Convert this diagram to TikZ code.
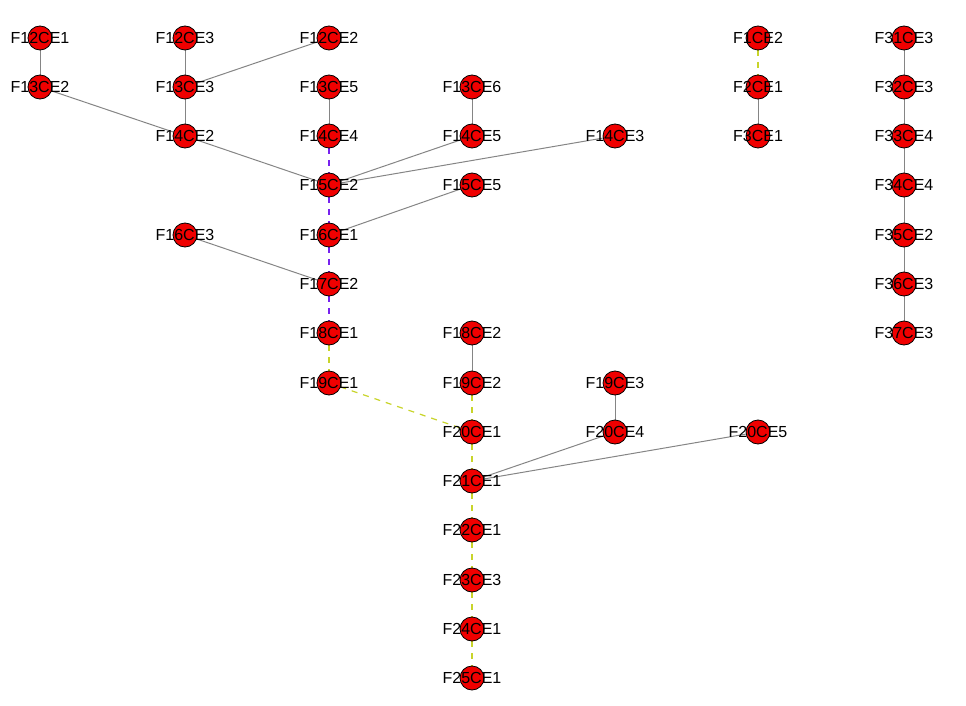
\documentclass[tikz,border=0pt]{standalone}
\usepackage{fontspec}
\setmainfont{Liberation Sans}
\usetikzlibrary{backgrounds}
\definecolor{nodered}{HTML}{F00000}
\definecolor{edgegray}{HTML}{858585}
\definecolor{edgepurple}{HTML}{7722EE}
\definecolor{edgeyellow}{HTML}{C8D42A}
\tikzset{
  vtx/.style={circle,draw=black,fill=nodered,line width=0.8pt,minimum size=24pt,inner sep=0pt,
    label={[font=\fontsize{16}{16}\selectfont,inner sep=0pt]center:#1}},
  plain/.style={draw=edgegray,line width=1pt},
  pdash/.style={draw=edgepurple,line width=1.2pt,dash pattern=on 6pt off 6pt},
  ydash/.style={draw=edgeyellow,line width=1.2pt,dash pattern=on 6pt off 6pt},
}
\newcommand{\vx}[3]{\node[vtx=#1] (#1) at (#2,#3) {};}
\begin{document}
\begin{tikzpicture}[x=1pt,y=-1pt]
\useasboundingbox (0,0) rectangle (966,706);
% column A
\vx{F12CE1}{40}{38}
\vx{F13CE2}{40}{87}
% column B
\vx{F12CE3}{185}{38}
\vx{F13CE3}{185}{87}
\vx{F14CE2}{185}{136}
\vx{F16CE3}{185}{235}
% column C
\vx{F12CE2}{329}{38}
\vx{F13CE5}{329}{87}
\vx{F14CE4}{329}{136}
\vx{F15CE2}{329}{185}
\vx{F16CE1}{329}{235}
\vx{F17CE2}{329}{284}
\vx{F18CE1}{329}{333}
\vx{F19CE1}{329}{383}
% column D
\vx{F13CE6}{472}{87}
\vx{F14CE5}{472}{136}
\vx{F15CE5}{472}{185}
\vx{F18CE2}{472}{333}
\vx{F19CE2}{472}{383}
\vx{F20CE1}{472}{432}
\vx{F21CE1}{472}{481}
\vx{F22CE1}{472}{530}
\vx{F23CE3}{472}{580}
\vx{F24CE1}{472}{629}
\vx{F25CE1}{472}{678}
% column E
\vx{F14CE3}{615}{136}
\vx{F19CE3}{615}{383}
\vx{F20CE4}{615}{432}
% column F
\vx{F1CE2}{758}{38}
\vx{F2CE1}{758}{87}
\vx{F3CE1}{758}{136}
\vx{F20CE5}{758}{432}
% column G
\vx{F31CE3}{904}{38}
\vx{F32CE3}{904}{87}
\vx{F33CE4}{904}{136}
\vx{F34CE4}{904}{185}
\vx{F35CE2}{904}{235}
\vx{F36CE3}{904}{284}
\vx{F37CE3}{904}{333}
\begin{scope}[on background layer]
\foreach \a/\b in {F12CE1/F13CE2,F13CE2/F14CE2,F12CE3/F13CE3,F12CE2/F13CE3,F13CE3/F14CE2,
  F14CE2/F15CE2,F13CE5/F14CE4,F13CE6/F14CE5,F14CE5/F15CE2,F14CE3/F15CE2,F15CE5/F16CE1,
  F16CE3/F17CE2,F18CE2/F19CE2,F19CE3/F20CE4,F20CE4/F21CE1,F20CE5/F21CE1,F2CE1/F3CE1,
  F31CE3/F32CE3,F32CE3/F33CE4,F33CE4/F34CE4,F34CE4/F35CE2,F35CE2/F36CE3,F36CE3/F37CE3}
  \draw[plain] (\a.center) -- (\b.center);
\foreach \a/\b in {F14CE4/F15CE2,F15CE2/F16CE1,F16CE1/F17CE2,F17CE2/F18CE1}
  \draw[pdash] (\a.center) -- (\b.center);
\foreach \a/\b in {F18CE1/F19CE1,F19CE1/F20CE1,F19CE2/F20CE1,F20CE1/F21CE1,F21CE1/F22CE1,
  F22CE1/F23CE3,F23CE3/F24CE1,F24CE1/F25CE1,F1CE2/F2CE1}
  \draw[ydash] (\a.center) -- (\b.center);
\end{scope}
\end{tikzpicture}
\end{document}
